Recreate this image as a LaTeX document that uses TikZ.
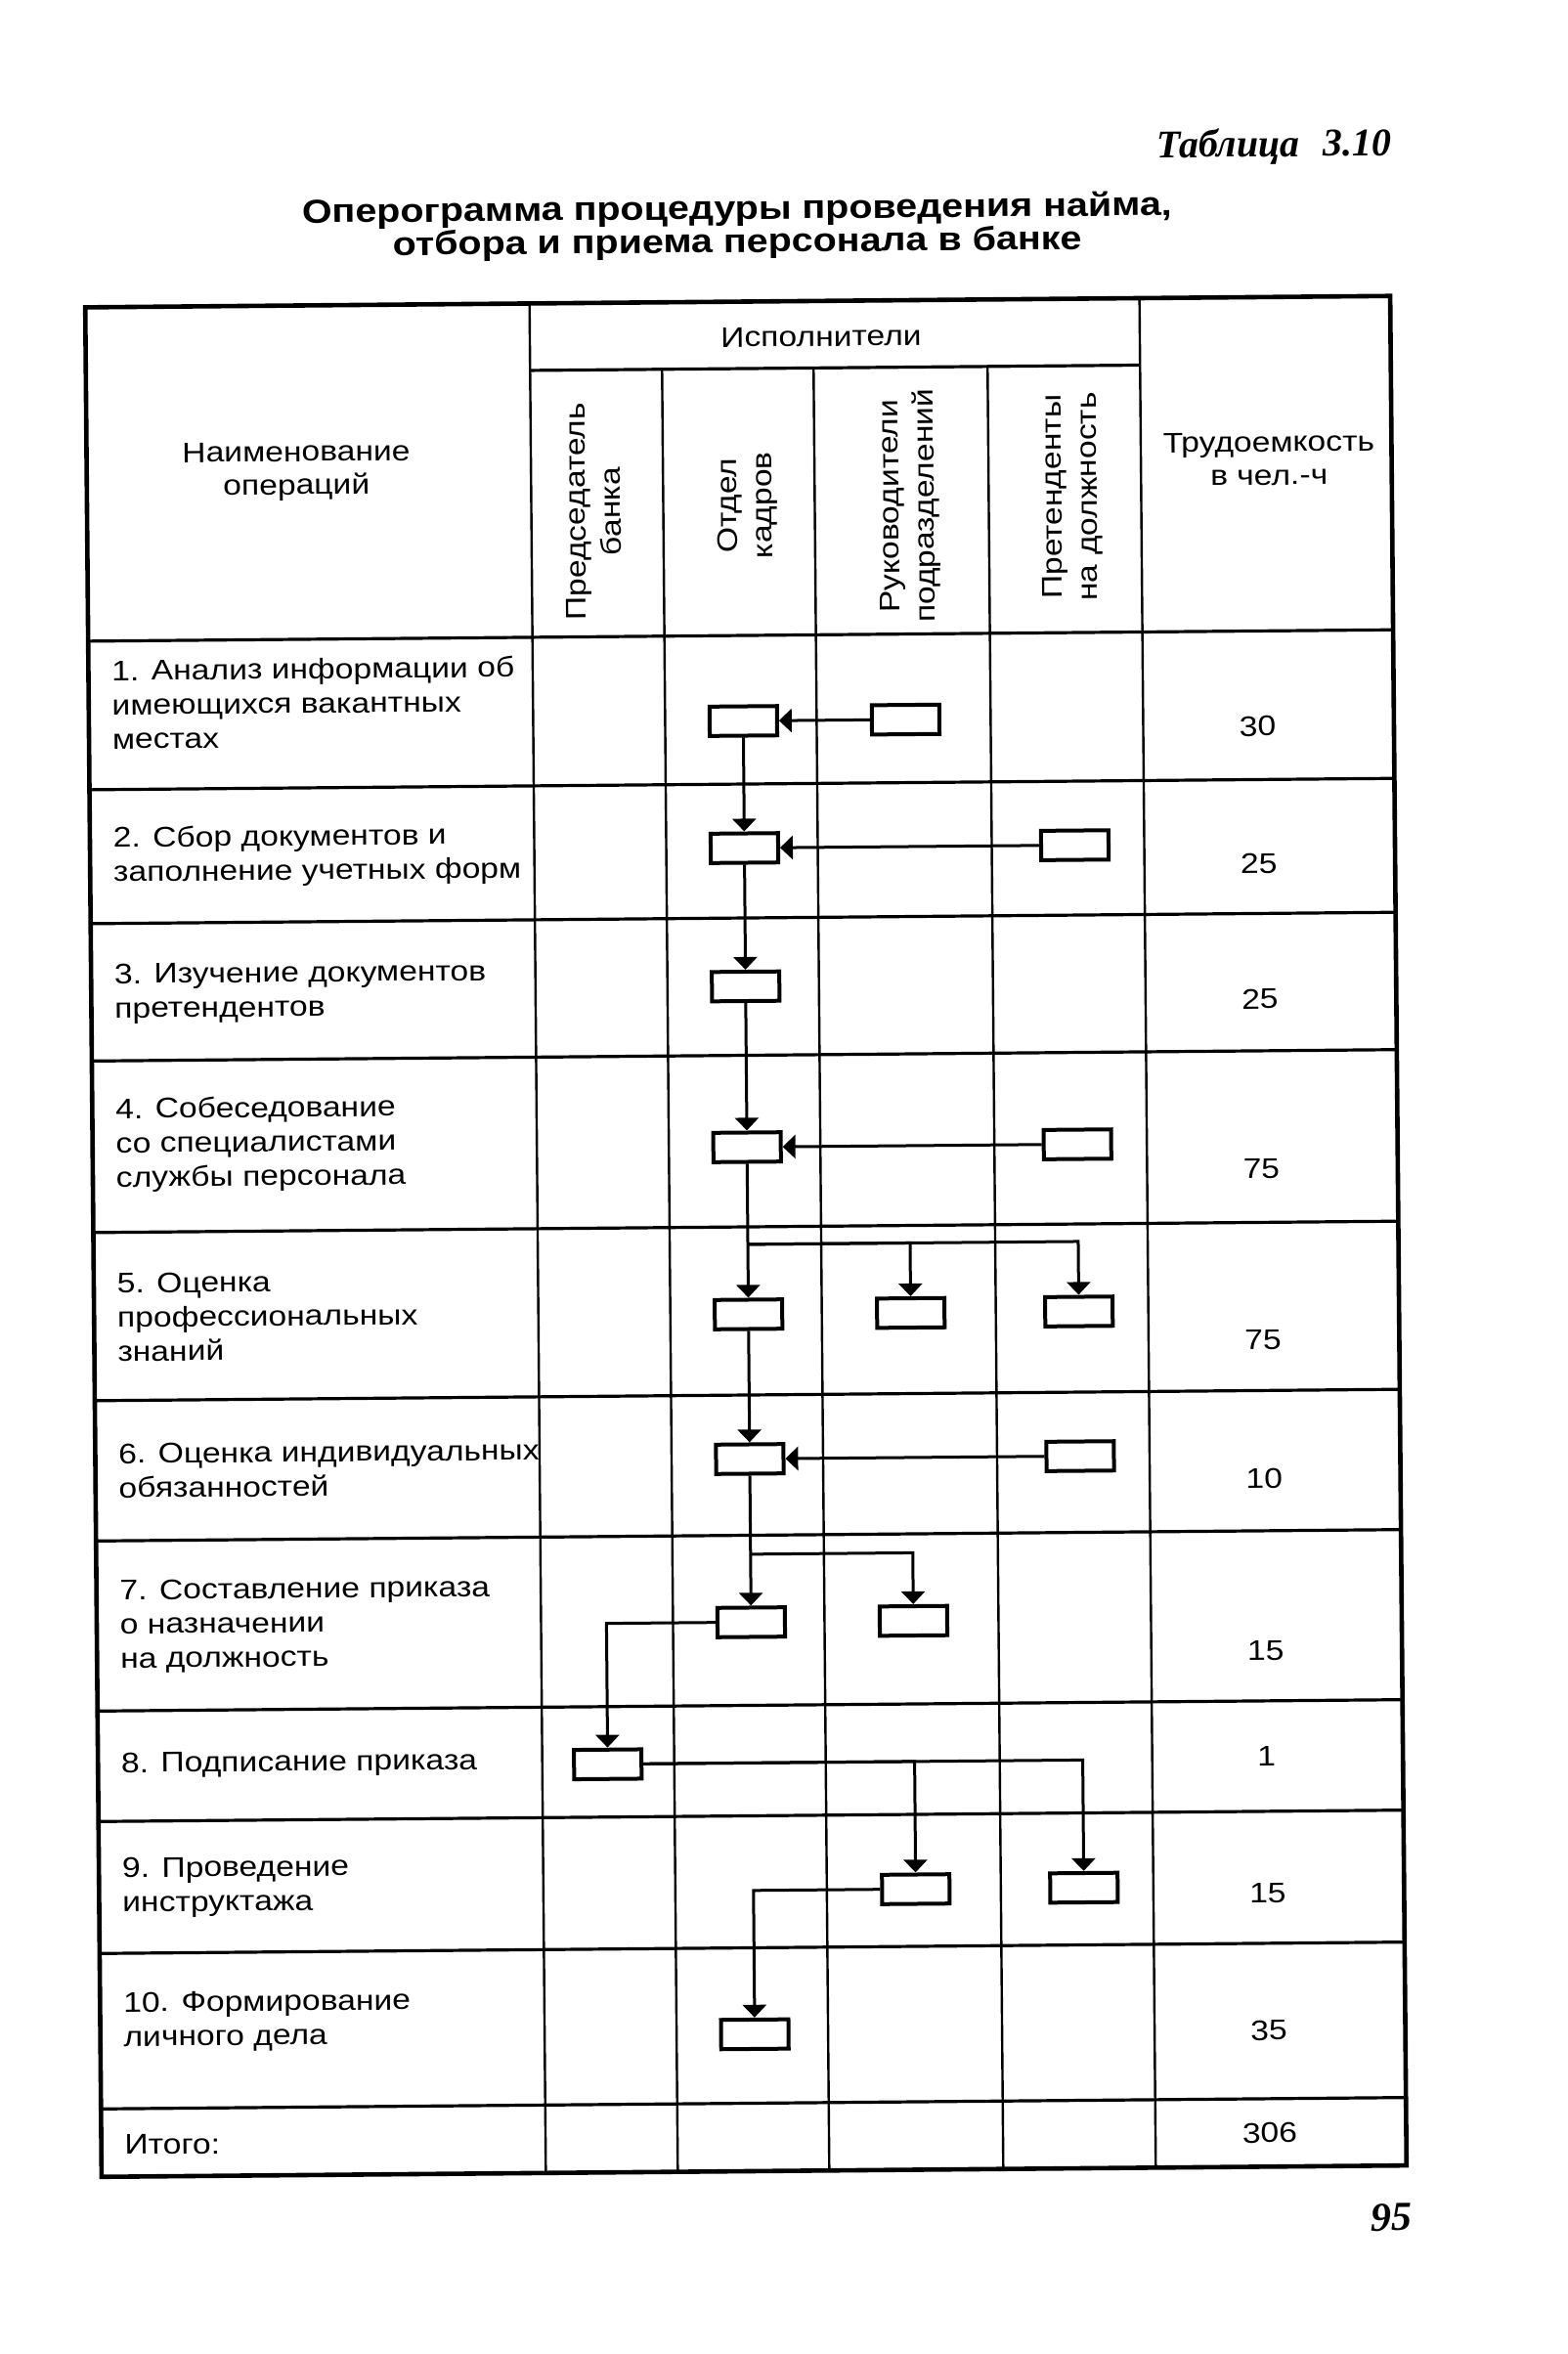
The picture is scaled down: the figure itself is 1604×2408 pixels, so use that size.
\documentclass[tikz,border=0pt]{standalone}
\usepackage{fontspec}
\setmainfont{Liberation Sans}[FakeStretch=1.16]
\newfontfamily\serifbi{Liberation Serif}
\usetikzlibrary{arrows.meta}
\begin{document}
\begin{tikzpicture}[x=0.5pt,y=-0.5pt,
  opbox/.style={draw, line width=2pt, minimum width=34.5pt, minimum height=15pt, inner sep=0pt},
  conn/.style={line width=1.5pt},
  arr/.style={conn, -{Triangle[width=12pt,length=6.5pt]}},
  outerline/.style={line width=2.3pt},
  hline/.style={line width=1.6pt},
  vline/.style={line width=1.2pt},
  optext/.style={anchor=west, align=left, inner sep=0pt, font=\fontsize{14.5}{17.5}\selectfont},
  numtext/.style={inner sep=0pt, font=\fontsize{14.5}{17.5}\selectfont},
  hdtext/.style={inner sep=0pt, align=center, font=\fontsize{14.5}{17}\selectfont},
  vtext/.style={inner sep=0pt, align=center, rotate=90, font=\fontsize{14.5}{18}\selectfont},
]
\fill[white] (0,0) rectangle (1604,2408);
\useasboundingbox (0,0) rectangle (1604,2408);
\begin{scope}[rotate around={0.5:(764,1265)}, transform shape]
% page texts
\node[anchor=base east, inner sep=0pt, font=\serifbi\bfseries\itshape\fontsize{20}{24}\selectfont] (tabno) at (1434,165) {Таблица\hspace{0.6em}3.10};
\node[inner sep=0pt, align=center, font=\bfseries\fontsize{17}{15}\selectfont] (title) at (763,232) {Оперограмма процедуры проведения найма,\\отбора и приема персонала в банке};
\node[inner sep=0pt, font=\serifbi\bfseries\itshape\fontsize{21}{24}\selectfont] (pageno) at (1415,2274) {95};
% table grid
\draw[outerline] (95.5,308.5) rectangle (1430.5,2221);
\draw[vline] (550,308.5) -- (550,2221);
\draw[vline] (1174,308.5) -- (1174,2221);
\draw[vline] (685,377) -- (685,2221);
\draw[vline] (840,377) -- (840,2221);
\draw[vline] (1018,377) -- (1018,2221);
\draw[hline] (550,377) -- (1174,377);
\foreach \yy in {650,802,939,1079.5,1255,1427,1570.5,1744.5,1857.5,1992.5,2151.5}
  \draw[hline] (95.5,\yy) -- (1430.5,\yy);
% header texts
\node[hdtext] (hname) at (310,478) {Наименование\\операций};
\node[hdtext] (hexec) at (848,345) {Исполнители};
\node[hdtext] (hlab) at (1305,474) {Трудоемкость\\в чел.-ч};
\node[vtext] (hpred) at (613.5,522) {Председатель\\банка};
\node[vtext] (hotd) at (771,517) {Отдел\\кадров};
\node[vtext] (hruk) at (937,519) {Руководители\\подразделений};
\node[vtext] (hpret) at (1103.5,511) {Претенденты\\на должность};
% operation names
\node[optext] (t1) at (119,715) {1. Анализ информации об\\имеющихся вакантных\\местах};
\node[optext] (t2) at (119,871) {2. Сбор документов и\\заполнение учетных форм};
\node[optext] (t3) at (119,1011) {3. Изучение документов\\претендентов};
\node[optext] (t4) at (119,1166) {4. Собеседование\\со специалистами\\службы персонала};
\node[optext] (t5) at (119,1342) {5. Оценка\\профессиональных\\знаний};
\node[optext] (t6) at (119,1499) {6. Оценка индивидуальных\\обязанностей};
\node[optext] (t7) at (119,1658.5) {7. Составление приказа\\о назначении\\на должность};
\node[optext] (t8) at (119,1800.5) {8. Подписание приказа};
\node[optext] (t9) at (119,1925.5) {9. Проведение\\инструктажа};
\node[optext] (t10) at (119,2063) {10. Формирование\\личного дела};
\node[optext] (ttot) at (119,2188.5) {Итого:};
% labour figures
\node[numtext] (n1) at (1291,747.5) {30};
\node[numtext] (n2) at (1291,888) {25};
\node[numtext] (n3) at (1291,1026.5) {25};
\node[numtext] (n4) at (1291,1200.5) {75};
\node[numtext] (n5) at (1291,1375) {75};
\node[numtext] (n6) at (1291,1517) {10};
\node[numtext] (n7) at (1291,1693.5) {15};
\node[numtext] (n8) at (1291,1801.5) {1};
\node[numtext] (n9) at (1291,1941.5) {15};
\node[numtext] (n10) at (1291,2081.5) {35};
\node[numtext] (ntot) at (1291,2186.5) {306};
% boxes
\node[opbox] (b1o) at (765,737.5) {};
\node[opbox] (b1r) at (931,737.5) {};
\node[opbox] (b2o) at (765,867.5) {};
\node[opbox] (b2p) at (1103,867.5) {};
\node[opbox] (b3o) at (765,1009) {};
\node[opbox] (b4o) at (765,1173.5) {};
\node[opbox] (b4p) at (1103,1173.5) {};
\node[opbox] (b5o) at (765,1344.5) {};
\node[opbox] (b5r) at (931,1344.5) {};
\node[opbox] (b5p) at (1103,1344.5) {};
\node[opbox] (b6o) at (765,1492.5) {};
\node[opbox] (b6p) at (1103,1492.5) {};
\node[opbox] (b7o) at (765,1659.5) {};
\node[opbox] (b7r) at (931,1659.5) {};
\node[opbox] (b8c) at (617,1803.5) {};
\node[opbox] (b9r) at (931,1934) {};
\node[opbox] (b9p) at (1103,1934) {};
\node[opbox] (b10o) at (765,2081) {};
\coordinate (j5) at (765,1273);
\coordinate (j7) at (765,1590);
% connectors
\draw[arr] (b1r.west) -- (b1o.east);
\draw[arr] (b1o.south) -- (b2o.north);
\draw[arr] (b2p.west) -- (b2o.east);
\draw[arr] (b2o.south) -- (b3o.north);
\draw[arr] (b3o.south) -- (b4o.north);
\draw[arr] (b4p.west) -- (b4o.east);
\draw[arr] (b4o.south) -- (b5o.north);
\draw[arr] (j5) -| (b5r.north);
\draw[arr] (j5) -| (b5p.north);
\draw[arr] (b5o.south) -- (b6o.north);
\draw[arr] (b6p.west) -- (b6o.east);
\draw[arr] (b6o.south) -- (b7o.north);
\draw[arr] (j7) -| (b7r.north);
\draw[arr] (b7o.west) -| (b8c.north);
\draw[arr] (b8c.east) -| (b9r.north);
\draw[arr] (b8c.east) -| (b9p.north);
\draw[arr] (b9r.west) -| (b10o.north);
\end{scope}
\end{tikzpicture}
\end{document}
